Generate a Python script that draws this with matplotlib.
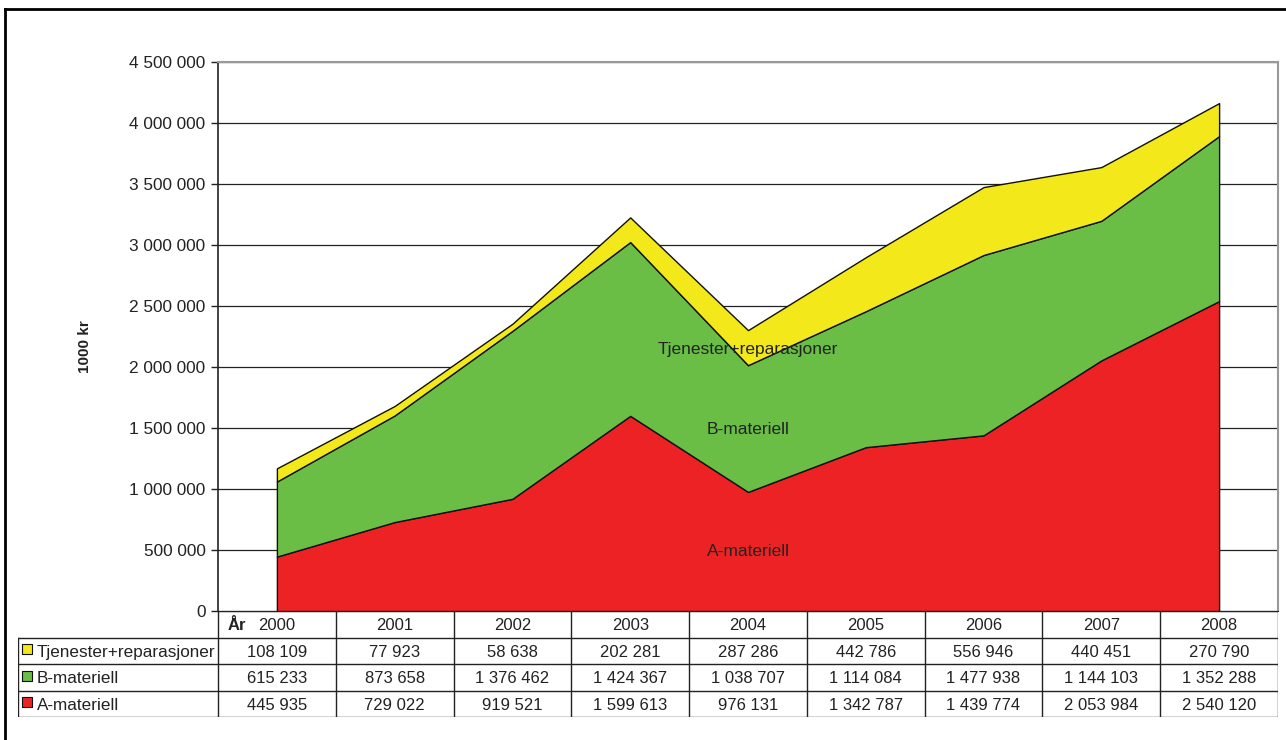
import numpy as np
import matplotlib
matplotlib.use('Agg')
import matplotlib.pyplot as plt
from matplotlib.lines import Line2D
from matplotlib.ticker import FuncFormatter, MultipleLocator

plt.rcParams['font.family'] = ['Liberation Sans', 'DejaVu Sans']

years = ['2000', '2001', '2002', '2003', '2004', '2005', '2006', '2007', '2008']
tjenester = [108109, 77923, 58638, 202281, 287286, 442786, 556946, 440451, 270790]
b_materiell = [615233, 873658, 1376462, 1424367, 1038707, 1114084, 1477938, 1144103, 1352288]
a_materiell = [445935, 729022, 919521, 1599613, 976131, 1342787, 1439774, 2053984, 2540120]

series_names = ['A-materiell', 'B-materiell', 'Tjenester+reparasjoner']
series_colors = ['#ED2224', '#6ABD45', '#F2E81A']


def fmt(v, pos=None):
    return f'{int(v):,}'.replace(',', ' ')


W, H = 1286, 740
fig = plt.figure(figsize=(W / 100, H / 100), dpi=100)

# pixel layout
x_left, x_right = 218, 1278
y_top, y_zero = 62, 611
tab_left, tab_bottom = 18, 717

ax = fig.add_axes([x_left / W, (H - y_zero) / H, (x_right - x_left) / W, (y_zero - y_top) / H])
x = np.arange(len(years))
ax.stackplot(x, a_materiell, b_materiell, tjenester, colors=series_colors,
             edgecolor='#111111', linewidth=1.0, zorder=3)
ax.set_xlim(-0.5, len(years) - 0.5)
ax.set_ylim(0, 4500000)
ax.yaxis.set_major_locator(MultipleLocator(500000))
ax.yaxis.set_major_formatter(FuncFormatter(fmt))
ax.set_xticks([])
ax.grid(axis='y', color='#222222', linewidth=0.9, zorder=0)
ax.tick_params(axis='y', labelsize=12.4, length=5, width=1, color='#222222', pad=4, labelcolor='#222222')
ax.spines['left'].set_color('#222222')
ax.spines['left'].set_linewidth(1.2)
ax.spines['bottom'].set_color('#222222')
ax.spines['top'].set_color('#999999')
ax.spines['top'].set_linewidth(1.5)
ax.spines['right'].set_color('#999999')
ax.spines['right'].set_linewidth(1.5)

fig.text(85 / W, 1 - 347 / H, '1000 kr', rotation=90, ha='center', va='center',
         fontsize=11, fontweight='bold', color='#222222')

# series labels inside the areas
ax.text(4.0, 2140000, 'Tjenester+reparasjoner', ha='center', va='center', fontsize=12.5, color='#222222', zorder=5)
ax.text(4.0, 1484000, 'B-materiell', ha='center', va='center', fontsize=12.5, color='#222222', zorder=5)
ax.text(4.0, 484000, 'A-materiell', ha='center', va='center', fontsize=12.5, color='#222222', zorder=5)

# data table below the chart
unit = (x_right - x_left) / len(years)
tx0 = -0.5 - (x_left - tab_left) / unit
tax = fig.add_axes([tab_left / W, (H - tab_bottom) / H, (x_right - tab_left) / W, (tab_bottom - y_zero) / H])
tax.set_xlim(tx0, len(years) - 0.5)
tax.set_ylim(4, 0)
tax.axis('off')

lc = '#222222'
tax.plot([-0.5, len(years) - 0.5], [0, 0], color=lc, lw=1)
for r in [1, 2, 3, 4]:
    tax.plot([tx0, len(years) - 0.5], [r, r], color=lc, lw=1)
tax.plot([tx0, tx0], [1, 4], color=lc, lw=1)
for i in range(len(years) + 1):
    tax.plot([i - 0.5, i - 0.5], [0, 4], color=lc, lw=1)

for i, yr in enumerate(years):
    tax.text(i, 0.55, yr, ha='center', va='center', fontsize=12, color='#222222')
tax.text(-0.42, 0.55, 'År', ha='left', va='center', fontsize=12, fontweight='bold', color='#222222')

rows = [('Tjenester+reparasjoner', tjenester, series_colors[2]),
        ('B-materiell', b_materiell, series_colors[1]),
        ('A-materiell', a_materiell, series_colors[0])]
for r, (name, vals, col) in enumerate(rows, start=1):
    tax.scatter([tx0 + 0.075], [r + 0.45], marker='s', s=55, color=col,
                edgecolor='#111111', linewidth=0.8, clip_on=False, zorder=4)
    tax.text(tx0 + 0.16, r + 0.55, name, ha='left', va='center', fontsize=12.3, color='#222222')
    for i, v in enumerate(vals):
        tax.text(i, r + 0.55, fmt(v), ha='center', va='center', fontsize=12, color='#222222')

# outer frame (top and left edges)
fig.add_artist(Line2D([5 / W, 1.0], [(H - 9) / H, (H - 9) / H], color='black', lw=2, transform=fig.transFigure))
fig.add_artist(Line2D([5 / W, 5 / W], [0, (H - 9) / H], color='black', lw=2, transform=fig.transFigure))

fig.savefig('out.png', dpi=100)
